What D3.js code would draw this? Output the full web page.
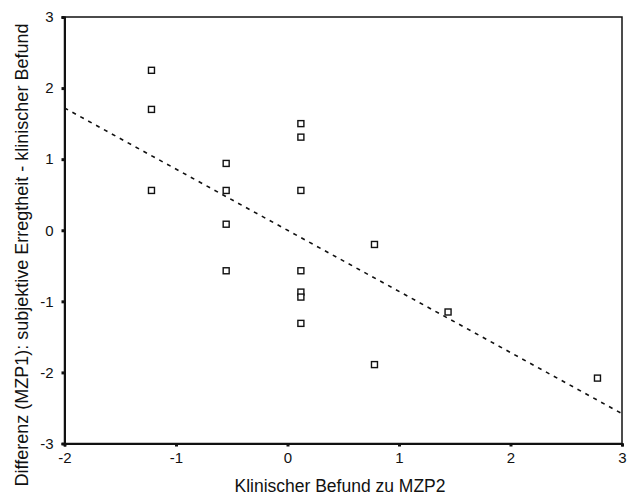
<!DOCTYPE html>
<html><head><meta charset="utf-8">
<script src="https://cdn.jsdelivr.net/npm/d3@7"></script>
<style>
html,body{margin:0;padding:0;background:#fff;}
svg text{font-family:"Liberation Sans",Arial,Helvetica,sans-serif;fill:#111;}
</style></head>
<body><svg id="chart" width="637" height="499"></svg>
<script>
// Data
const xValues = [-1.22,-1.22,-1.22, -0.55,-0.55,-0.55,-0.55, 0.12,0.12,0.12,0.12,0.12,0.12,0.12, 0.78,0.78, 1.44, 2.78];
const yValues = [2.25,1.70,0.56, 0.94,0.56,0.085,-0.57, 1.50,1.31,0.56,-0.57,-0.87,-0.94,-1.31, -0.20,-1.89, -1.15, -2.08];
const fitX = [-2, 3];
const fitY = [1.72, -2.58];
const xTicks = [-2,-1,0,1,2,3];
const yTicks = [-3,-2,-1,0,1,2,3];
const xTitle = "Klinischer Befund zu MZP2";
const yTitle = "Differenz (MZP1): subjektive Erregtheit - klinischer Befund";

const svg = d3.select("#chart");
const L = 64.5, R = 622, T = 17, B = 443.5;
const x = d3.scaleLinear().domain([-2,3]).range([L,R]);
const y = d3.scaleLinear().domain([-3,3]).range([B,T]);

// frame
svg.append("rect").attr("x",L).attr("y",T).attr("width",R-L).attr("height",B-T)
  .attr("fill","none").attr("stroke","#111").attr("stroke-width",1.5);

// axes
const ax = svg.append("g").attr("transform",`translate(0,${B})`)
  .call(d3.axisBottom(x).tickValues(xTicks).tickSize(3).tickPadding(6).tickFormat(d=>String(d)));
const ay = svg.append("g").attr("transform",`translate(${L},0)`)
  .call(d3.axisLeft(y).tickValues(yTicks).tickSize(3).tickPadding(8).tickFormat(d=>String(d)));
[ax,ay].forEach(g=>{
  g.select(".domain").attr("stroke","#111").attr("stroke-width",2);
  g.selectAll(".tick line").attr("stroke","#111").attr("stroke-width",3);
  g.selectAll(".tick text").attr("font-size",15).attr("fill","#111");
});

// regression line
svg.append("line")
  .attr("x1",x(fitX[0])).attr("y1",y(fitY[0]))
  .attr("x2",x(fitX[1])).attr("y2",y(fitY[1]))
  .attr("stroke","#111").attr("stroke-width",1.6).attr("stroke-dasharray","4,5");

// points
const pts = xValues.map((v,i)=>({x:v,y:yValues[i]}));
svg.append("g").selectAll("rect").data(pts).join("rect")
  .attr("x",d=>x(d.x)-3).attr("y",d=>y(d.y)-3)
  .attr("width",6).attr("height",6)
  .attr("fill","#fff").attr("stroke","#111").attr("stroke-width",1.4);

// titles
svg.append("text").attr("x",340).attr("y",492).attr("text-anchor","middle")
  .attr("font-size",17.5).text(xTitle);
svg.append("text").attr("transform","translate(28,255) rotate(-90)").attr("text-anchor","middle")
  .attr("font-size",18).text(yTitle);
</script></body></html>
